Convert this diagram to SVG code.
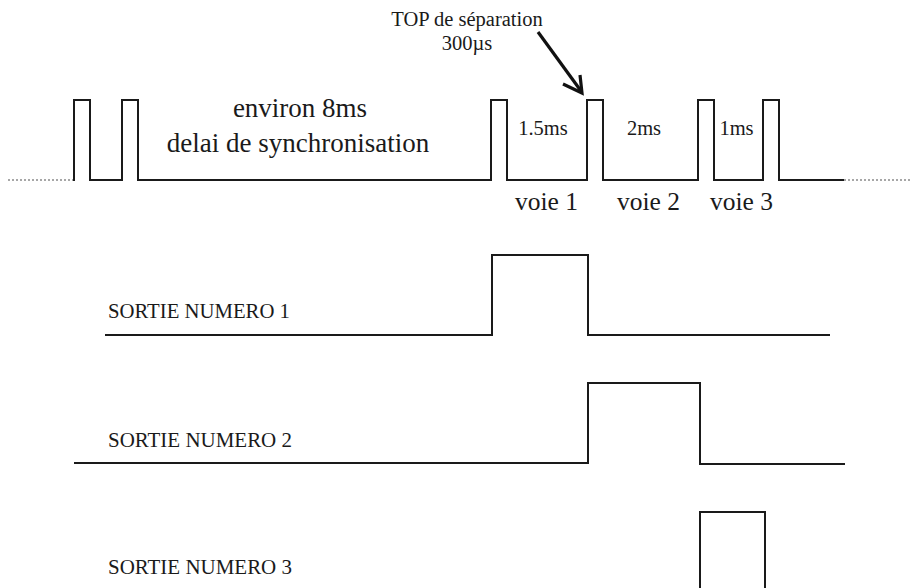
<svg xmlns="http://www.w3.org/2000/svg" width="911" height="588" viewBox="0 0 911 588">
<style>
.w{fill:none;stroke:#1a1a1a;stroke-width:2;stroke-linejoin:miter}
.dot{fill:none;stroke:#8a8a8a;stroke-width:1.3;stroke-dasharray:2 2}
.t{font-family:"Liberation Serif","Times New Roman",serif;fill:#1a1a1a}
</style>
<rect width="911" height="588" fill="#ffffff"/>
<g id="signal-top">
<line class="dot" x1="8" y1="180" x2="73" y2="180"/>
<line class="dot" x1="844" y1="180" x2="911" y2="180"/>
<polyline class="w" points="73,180 74,180 74,100 90,100 90,180 122,180 122,100 138,100 138,180 491,180 491,100 507,100 507,180 587,180 587,100 603,100 603,180 698,180 698,100 714,100 714,180 763,180 763,100 779,100 779,180 844,180"/>
</g>
<g id="labels-top">
<text class="t" x="467" y="26" font-size="20.5" text-anchor="middle">TOP de séparation</text>
<text class="t" x="467" y="50" font-size="20.5" text-anchor="middle">300µs</text>
<text class="t" x="300" y="117" font-size="27" text-anchor="middle">environ 8ms</text>
<text class="t" x="298" y="152" font-size="27" text-anchor="middle">delai de synchronisation</text>
<text class="t" x="543" y="135" font-size="20.5" text-anchor="middle">1.5ms</text>
<text class="t" x="644" y="135" font-size="20.5" text-anchor="middle">2ms</text>
<text class="t" x="736.5" y="135" font-size="20.5" text-anchor="middle">1ms</text>
<text class="t" x="546.5" y="210" font-size="25.5" text-anchor="middle">voie 1</text>
<text class="t" x="648.5" y="210" font-size="25.5" text-anchor="middle">voie 2</text>
<text class="t" x="741.5" y="210" font-size="25.5" text-anchor="middle">voie 3</text>
</g>
<g id="connectors">
<line x1="538" y1="32" x2="581" y2="91" stroke="#111" stroke-width="3.2"/>
<polyline points="563,84 582,93 580,75" fill="none" stroke="#111" stroke-width="3.2" stroke-linejoin="miter"/>
</g>
<g id="sortie-1">
<text class="t" x="108" y="318" font-size="21" textLength="182" lengthAdjust="spacingAndGlyphs">SORTIE NUMERO 1</text>
<polyline class="w" points="105,335 492,335 492,255 588,255 588,335 830,335"/>
</g>
<g id="sortie-2">
<text class="t" x="108" y="447" font-size="21" textLength="184" lengthAdjust="spacingAndGlyphs">SORTIE NUMERO 2</text>
<polyline class="w" points="74,463 588,463 588,383 700,383 700,464 845,464"/>
</g>
<g id="sortie-3">
<text class="t" x="108" y="574" font-size="21" textLength="184" lengthAdjust="spacingAndGlyphs">SORTIE NUMERO 3</text>
<polyline class="w" points="700,590 700,512 765,512 765,590"/>
</g>
</svg>
